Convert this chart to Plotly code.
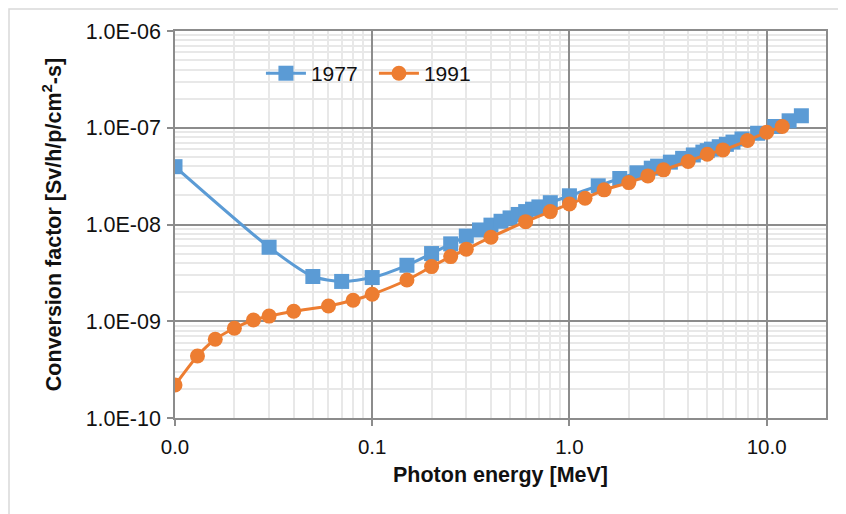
import plotly.graph_objects as go

# 1977 conversion factors
energy_1977 = [0.01, 0.03, 0.05, 0.07, 0.1, 0.15, 0.2, 0.25, 0.3, 0.35, 0.4, 0.45, 0.5,
               0.55, 0.6, 0.65, 0.7, 0.8, 1.0, 1.4, 1.8, 2.2, 2.6, 2.8, 3.25, 3.75, 4.25,
               4.75, 5.0, 5.25, 5.75, 6.25, 6.75, 7.5, 9.0, 11.0, 13.0, 15.0]
factor_1977 = [3.96e-8, 5.82e-9, 2.90e-9, 2.58e-9, 2.83e-9, 3.79e-9, 5.01e-9, 6.31e-9,
               7.59e-9, 8.78e-9, 9.85e-9, 1.08e-8, 1.17e-8, 1.27e-8, 1.36e-8, 1.44e-8,
               1.52e-8, 1.68e-8, 1.98e-8, 2.51e-8, 2.99e-8, 3.42e-8, 3.82e-8, 4.01e-8,
               4.41e-8, 4.83e-8, 5.23e-8, 5.60e-8, 5.80e-8, 6.01e-8, 6.37e-8, 6.74e-8,
               7.11e-8, 7.66e-8, 8.77e-8, 1.03e-7, 1.18e-7, 1.33e-7]

# 1991 conversion factors
energy_1991 = [0.01, 0.013, 0.016, 0.02, 0.025, 0.03, 0.04, 0.06, 0.08, 0.1, 0.15, 0.2,
               0.25, 0.3, 0.4, 0.6, 0.8, 1.0, 1.2, 1.5, 2.0, 2.5, 3.0, 4.0, 5.0, 6.0,
               8.0, 10.0, 12.0]
factor_1991 = [2.19e-10, 4.38e-10, 6.51e-10, 8.47e-10, 1.03e-9, 1.13e-9, 1.27e-9, 1.44e-9,
               1.65e-9, 1.9e-9, 2.67e-9, 3.67e-9, 4.66e-9, 5.56e-9, 7.39e-9, 1.07e-8,
               1.36e-8, 1.63e-8, 1.87e-8, 2.28e-8, 2.71e-8, 3.18e-8, 3.67e-8, 4.48e-8,
               5.33e-8, 5.90e-8, 7.38e-8, 9.0e-8, 1.03e-7]

x_tickvals = [0.01, 0.1, 1, 10]
x_ticktext = ["0.0", "0.1", "1.0", "10.0"]
y_tickvals = [1e-10, 1e-9, 1e-8, 1e-7, 1e-6]
y_ticktext = ["1.0E-10", "1.0E-09", "1.0E-08", "1.0E-07", "1.0E-06"]

BLUE = "#5B9BD5"
ORANGE = "#ED7D31"
MAJOR = "#8c8c8c"
MINOR = "#e8e8e8"
FONT = "Liberation Sans, Arial, sans-serif"

# page body adds an 8px offset, so the figure is a bit smaller than the window
W, H = 838, 506
L, R, T, B = 167, 20, 23, 96
PW, PH = W - L - R, H - T - B

fig = go.Figure()
fig.add_trace(go.Scatter(
    x=energy_1977, y=factor_1977, name="1977", mode="lines+markers",
    line=dict(color=BLUE, width=3, shape="spline", smoothing=0.7),
    marker=dict(symbol="square", size=15, color=BLUE),
))
fig.add_trace(go.Scatter(
    x=energy_1991, y=factor_1991, name="1991", mode="lines+markers",
    line=dict(color=ORANGE, width=3, shape="spline", smoothing=0.7),
    marker=dict(symbol="circle", size=15, color=ORANGE),
))

fig.update_xaxes(
    type="log", range=[-2, 1.301], automargin=False,
    tickvals=x_tickvals, ticktext=x_ticktext,
    showgrid=True, gridcolor=MAJOR, gridwidth=1.5,
    minor=dict(showgrid=True, gridcolor=MINOR, gridwidth=1.5, dtick="D1"),
    showline=True, linecolor=MAJOR, linewidth=1.5, mirror=True,
    ticks="outside", ticklen=6, tickcolor=MAJOR, tickwidth=1.5,
    tickfont=dict(size=20.5, color="#111"), ticklabelstandoff=4,
    title=dict(text="<b>Photon energy [MeV]</b>", font=dict(size=21.5, color="#111"), standoff=10),
    zeroline=False,
)
fig.update_yaxes(
    type="log", range=[-10, -6], automargin=False,
    tickvals=y_tickvals, ticktext=y_ticktext,
    showgrid=True, gridcolor=MAJOR, gridwidth=1.5,
    minor=dict(showgrid=True, gridcolor=MINOR, gridwidth=1.5, dtick="D1"),
    showline=True, linecolor=MAJOR, linewidth=1.5, mirror=True,
    ticks="outside", ticklen=6, tickcolor=MAJOR, tickwidth=1.5,
    tickfont=dict(size=21.5, color="#111"), ticklabelstandoff=2,
    title=dict(text="<b>Conversion factor [Sv/h/p/cm<sup>2</sup>-s]</b>",
               font=dict(size=21.5, color="#111"), standoff=18),
    zeroline=False,
)

fig.update_layout(
    width=W, height=H,
    margin=dict(l=L, r=R, t=T, b=B),
    paper_bgcolor="white", plot_bgcolor="white",
    font=dict(family=FONT, color="#111"),
    showlegend=True,
    legend=dict(orientation="h", x=0.132, y=0.89, xanchor="left", yanchor="middle",
                bgcolor="rgba(0,0,0,0)", font=dict(size=21, color="#111"),
                itemwidth=40, entrywidth=58),
    shapes=[dict(type="rect", xref="paper", yref="paper",
                 x0=(1 - L) / PW, x1=(W + 20 - L) / PW,
                 y0=-(B + 20) / PH, y1=(PH + T - 1) / PH,
                 line=dict(color="#d9d9d9", width=1.5), fillcolor="rgba(0,0,0,0)",
                 layer="below")],
)

fig.write_html("out.html")
